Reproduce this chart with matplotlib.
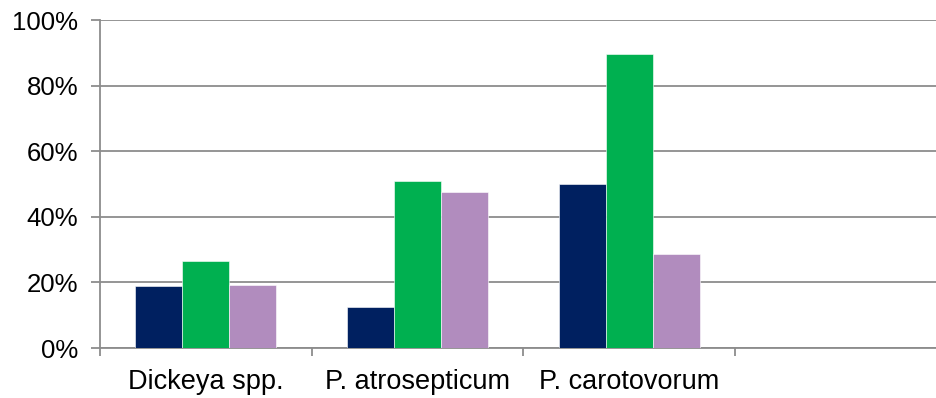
import matplotlib
matplotlib.use("Agg")
import matplotlib.pyplot as plt
from matplotlib.ticker import FixedLocator, PercentFormatter

plt.rcParams['font.family'] = ['Liberation Sans', 'DejaVu Sans']

categories = ['Dickeya spp.', 'P. atrosepticum', 'P. carotovorum']
series_a = [18.8, 12.6, 50.0]
series_b = [26.4, 51.0, 89.6]
series_c = [19.2, 47.7, 28.6]
colors = ['#002060', '#00B050', '#B18CBE']

fig = plt.figure(figsize=(9.36, 3.98), dpi=100)
ax = fig.add_axes([100 / 936, 50 / 398, 836 / 936, 328 / 398])

w = 0.222
x = list(range(len(categories)))
for i, (vals, col) in enumerate(zip([series_a, series_b, series_c], colors)):
    ax.bar([p + (i - 1) * w for p in x], vals, width=w, color=col,
           edgecolor='white', linewidth=0.4, zorder=3)

ax.set_ylim(0, 100)
ax.set_xlim(-0.5, 3.449)
ax.set_yticks([0, 20, 40, 60, 80, 100])
ax.yaxis.set_major_formatter(PercentFormatter(decimals=0))
ax.yaxis.grid(True, color='#8c8c8c', linewidth=1.3, zorder=0)

ax.xaxis.set_major_locator(FixedLocator([-0.5, 0.5, 1.5, 2.5, 3.5]))
ax.xaxis.set_minor_locator(FixedLocator(x))
ax.set_xticklabels([])
ax.set_xticklabels(categories, minor=True)
ax.tick_params(axis='x', which='major', length=6, width=1.3, color='#8c8c8c')
ax.tick_params(axis='x', which='minor', length=0, pad=15, labelsize=19.5)
ax.tick_params(axis='y', length=6.5, width=1.3, color='#8c8c8c', pad=9,
               labelsize=18.5)

for s in ['top', 'right']:
    ax.spines[s].set_visible(False)
for s in ['left', 'bottom']:
    ax.spines[s].set_color('#8c8c8c')
    ax.spines[s].set_linewidth(1.3)

fig.savefig('out.png', dpi=100)
